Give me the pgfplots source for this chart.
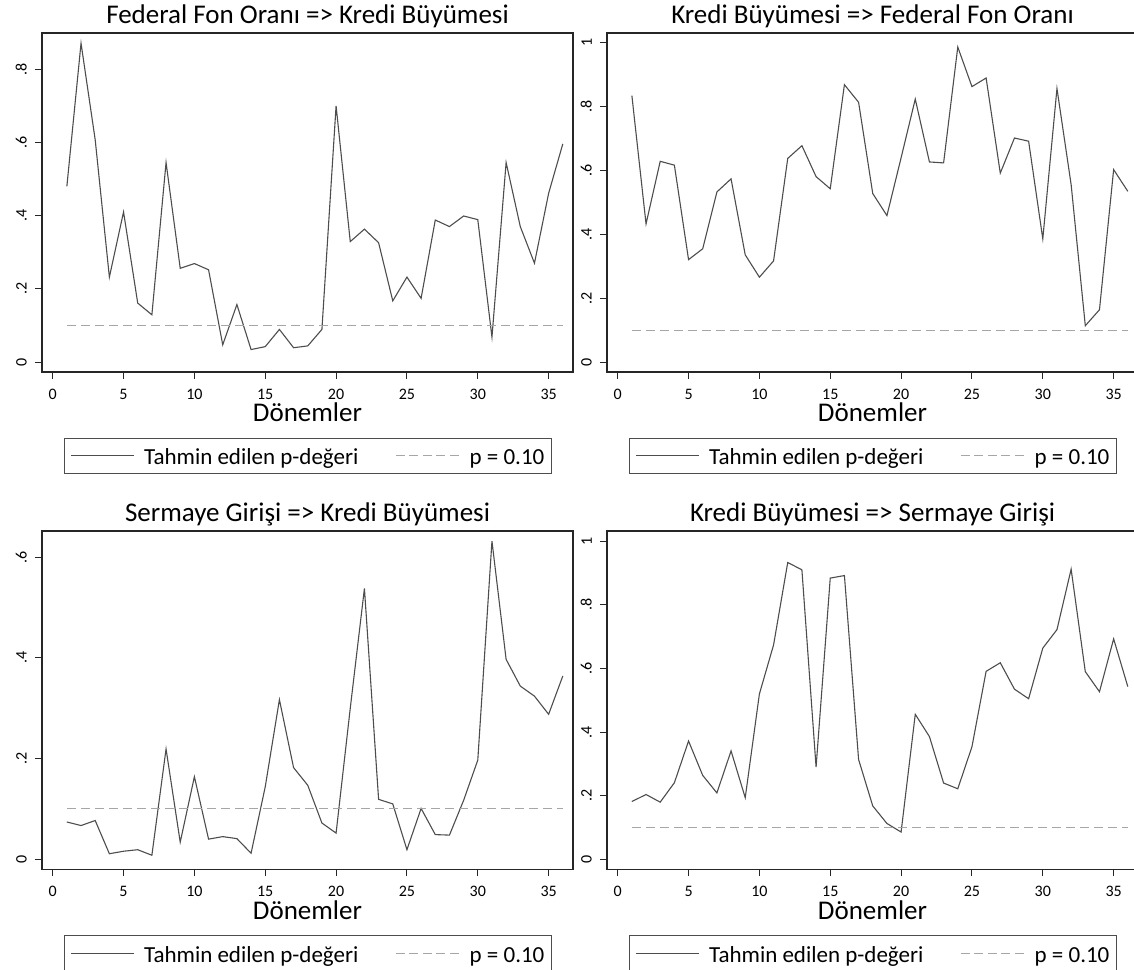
\documentclass[border=0pt]{standalone}
\usepackage{fontspec}
\setmainfont{Carlito}
\usepackage{pgfplots}
\pgfplotsset{compat=1.18}
\definecolor{pline}{HTML}{4D4D4D}
\definecolor{pdash}{HTML}{A6A6A6}
\definecolor{frame}{HTML}{262626}

\pgfplotsset{
  stpanel/.style={
    scale only axis, width=531pt, anchor=south west,
    xmin=-0.755, xmax=36.72,
    axis line style={frame, line width=1.1pt},
    tick style={frame, line width=1pt},
    tick align=outside, major tick length=7pt,
    xtick pos=bottom, ytick pos=left,
    xtick={0,5,...,35}, xticklabels={0,5,10,15,20,25,30,35},
    ticklabel style={font=\fontsize{16}{18}\selectfont, inner sep=0pt},
    xticklabel shift=10pt,
    yticklabel style={rotate=90, anchor=south},
    yticklabel shift=8pt,
    title style={at={(axis description cs:0.5,1)}, anchor=base, yshift=3pt,
      font=\fontsize{27}{32}\selectfont},
    xlabel={Dönemler},
    xlabel style={at={(axis description cs:0.5,0)}, anchor=base, yshift=-50pt,
      font=\fontsize{27}{32}\selectfont},
    legend columns=2, legend cell align=left,
    legend style={at={(0.5,0)}, anchor=north, yshift=-66pt,
      draw=pline, line width=0.8pt, fill=white,
      inner xsep=6.7pt, inner ysep=6.5pt,
      font=\fontsize{23}{26}\selectfont,
      nodes={inner sep=0pt, text height=20pt, text depth=2pt},
      /tikz/every odd column/.append style={column sep=9.7pt},
      /tikz/every even column/.append style={column sep=37pt}},
  },
  pv/.style={pline, line width=1.1pt,
    legend image code/.code={\draw[pline, line width=0.8pt] (0pt,0pt) -- (63pt,0pt);}},
  pten/.style={pdash, line width=1.1pt, dash pattern=on 9pt off 5pt,
    legend image code/.code={\draw[pdash, line width=0.8pt, dash pattern=on 9pt off 4.5pt] (0pt,0pt) -- (63pt,0pt); \path (63.6pt,0pt);}},
}

\begin{document}
\begin{tikzpicture}
\useasboundingbox (0,0) rectangle (1134pt,969pt);
\clip (0,0) rectangle (1134pt,969pt);

% ust sol
\begin{axis}[stpanel, at={(42pt,597pt)}, height=339pt,
  ymin=-0.0273, ymax=0.899,
  ytick={0,0.2,0.4,0.6,0.8}, yticklabels={0,.2,.4,.6,.8},
  title={Federal Fon Oranı => Kredi Büyümesi}]
\addplot[pv] coordinates {(1,0.480)(2,0.871)(3,0.607)(4,0.232)(5,0.410)(6,0.161)(7,0.129)(8,0.545)(9,0.256)(10,0.269)(11,0.252)(12,0.047)(13,0.157)(14,0.034)(15,0.042)(16,0.089)(17,0.039)(18,0.044)(19,0.089)(20,0.700)(21,0.329)(22,0.363)(23,0.326)(24,0.167)(25,0.232)(26,0.174)(27,0.388)(28,0.370)(29,0.399)(30,0.389)(31,0.068)(32,0.545)(33,0.370)(34,0.270)(35,0.461)(36,0.596)};
\addlegendentry{Tahmin edilen p-değeri}
\addplot[pten] coordinates {(1,0.1)(36,0.1)};
\addlegendentry{p = 0.10\hspace{4.3pt}}
\end{axis}

% ust sag
\begin{axis}[stpanel, at={(607pt,597pt)}, height=339pt,
  ymin=-0.031, ymax=1.031,
  ytick={0,0.2,0.4,0.6,0.8,1}, yticklabels={0,.2,.4,.6,.8,1},
  title={Kredi Büyümesi => Federal Fon Oranı}]
\addplot[pv] coordinates {(1,0.835)(2,0.433)(3,0.629)(4,0.617)(5,0.321)(6,0.355)(7,0.533)(8,0.574)(9,0.336)(10,0.266)(11,0.317)(12,0.638)(13,0.678)(14,0.581)(15,0.543)(16,0.869)(17,0.814)(18,0.528)(19,0.459)(20,0.640)(21,0.824)(22,0.627)(23,0.624)(24,0.987)(25,0.863)(26,0.890)(27,0.592)(28,0.702)(29,0.692)(30,0.386)(31,0.857)(32,0.556)(33,0.114)(34,0.164)(35,0.603)(36,0.535)};
\addlegendentry{Tahmin edilen p-değeri}
\addplot[pten] coordinates {(1,0.1)(36,0.1)};
\addlegendentry{p = 0.10\hspace{4.3pt}}
\end{axis}

% alt sol
\begin{axis}[stpanel, at={(42pt,99.7pt)}, height=338.3pt,
  ymin=-0.0199, ymax=0.652,
  ytick={0,0.2,0.4,0.6}, yticklabels={0,.2,.4,.6},
  title={Sermaye Girişi => Kredi Büyümesi}]
\addplot[pv] coordinates {(1,0.074)(2,0.067)(3,0.077)(4,0.011)(5,0.016)(6,0.019)(7,0.008)(8,0.219)(9,0.034)(10,0.164)(11,0.040)(12,0.045)(13,0.041)(14,0.012)(15,0.144)(16,0.317)(17,0.182)(18,0.147)(19,0.072)(20,0.052)(21,0.300)(22,0.538)(23,0.119)(24,0.110)(25,0.019)(26,0.101)(27,0.049)(28,0.048)(29,0.117)(30,0.197)(31,0.632)(32,0.397)(33,0.344)(34,0.324)(35,0.288)(36,0.364)};
\addlegendentry{Tahmin edilen p-değeri}
\addplot[pten] coordinates {(1,0.1)(36,0.1)};
\addlegendentry{p = 0.10\hspace{4.3pt}}
\end{axis}

% alt sag
\begin{axis}[stpanel, at={(607pt,99.7pt)}, height=338.3pt,
  ymin=-0.031, ymax=1.032,
  ytick={0,0.2,0.4,0.6,0.8,1}, yticklabels={0,.2,.4,.6,.8,1},
  title={Kredi Büyümesi => Sermaye Girişi}]
\addplot[pv] coordinates {(1,0.182)(2,0.204)(3,0.180)(4,0.241)(5,0.372)(6,0.264)(7,0.209)(8,0.341)(9,0.194)(10,0.520)(11,0.674)(12,0.933)(13,0.910)(14,0.290)(15,0.884)(16,0.892)(17,0.314)(18,0.168)(19,0.113)(20,0.086)(21,0.456)(22,0.386)(23,0.240)(24,0.222)(25,0.354)(26,0.591)(27,0.618)(28,0.535)(29,0.505)(30,0.664)(31,0.722)(32,0.912)(33,0.590)(34,0.527)(35,0.693)(36,0.543)};
\addlegendentry{Tahmin edilen p-değeri}
\addplot[pten] coordinates {(1,0.1)(36,0.1)};
\addlegendentry{p = 0.10\hspace{4.3pt}}
\end{axis}
\end{tikzpicture}
\end{document}
